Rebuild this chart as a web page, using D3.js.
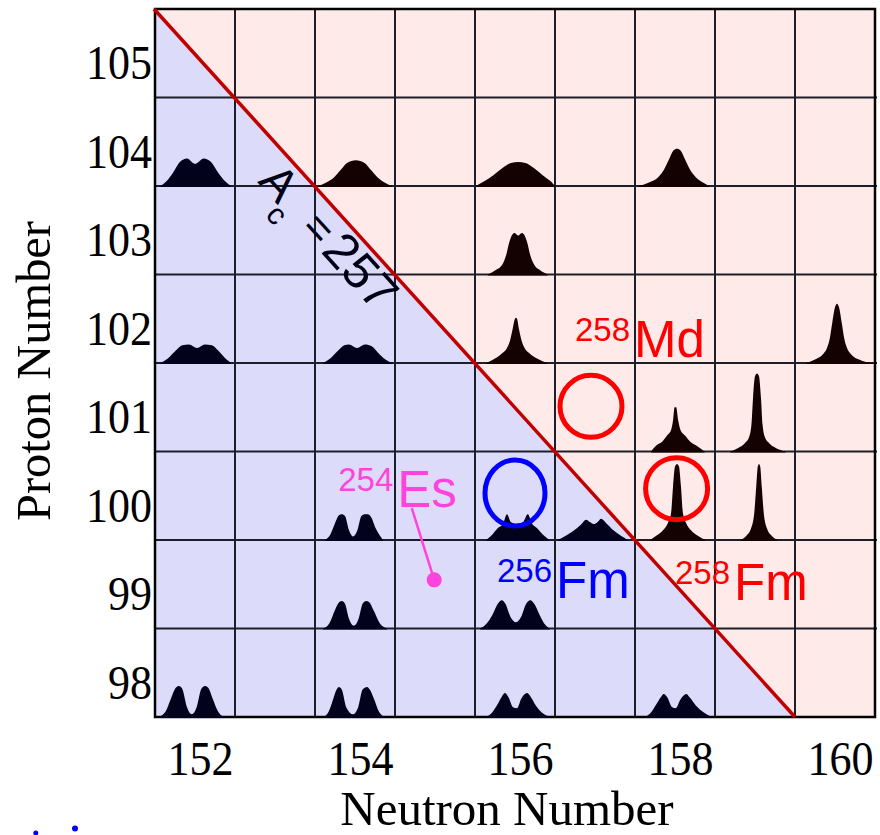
<!DOCTYPE html>
<html>
<head>
<meta charset="utf-8">
<script src="https://cdn.jsdelivr.net/npm/d3@7"></script>
<style>
  html, body { margin: 0; padding: 0; background: #ffffff; }
  svg { display: block; }
</style>
</head>
<body>
<svg id="chart" width="880" height="835"></svg>
<script>
// ---------------- data ----------------
const neutronTicks = [152, 154, 156, 158, 160];
const protonTicks = [98, 99, 100, 101, 102, 103, 104, 105];
const neutronDomain = [151.5, 160.5];
const protonDomain = [97.5, 105.5];
const criticalMass = 257; // A_c = N + Z

// fragment mass distributions per nucleus (N, Z):
// profile points = [relative fragment mass (-1..1 across the cell), yield (fraction of a cell height)]
const yieldN = [152, 154, 156, 158, 156, 152, 154, 156, 160, 158, 159, 154, 156, 157, 158, 159, 154, 156, 152, 154, 156, 158];
const yieldZ = [104, 104, 104, 104, 103, 102, 102, 102, 102, 101, 101, 100, 100, 100, 100, 100, 99, 99, 98, 98, 98, 98];
const yieldProfiles = [
  [[-0.86,0],[-0.72,0.05],[-0.55,0.15],[-0.38,0.27],[-0.2,0.31],[0.0,0.25],[0.22,0.31],[0.4,0.27],[0.58,0.15],[0.76,0.05],[0.9,0]],
  [[-0.92,0],[-0.72,0.04],[-0.52,0.1],[-0.36,0.18],[-0.2,0.26],[0.02,0.29],[0.24,0.26],[0.4,0.18],[0.56,0.1],[0.74,0.04],[0.92,0]],
  [[-0.98,0],[-0.78,0.05],[-0.55,0.12],[-0.32,0.2],[-0.1,0.26],[0.08,0.27],[0.26,0.26],[0.48,0.2],[0.7,0.12],[0.9,0.05],[1.0,0]],
  [[-0.9,0],[-0.65,0.04],[-0.42,0.1],[-0.27,0.19],[-0.14,0.31],[-0.04,0.4],[0.05,0.42],[0.14,0.4],[0.24,0.31],[0.37,0.19],[0.52,0.1],[0.7,0.04],[0.85,0]],
  [[-0.68,0],[-0.48,0.05],[-0.32,0.11],[-0.22,0.22],[-0.14,0.37],[-0.07,0.45],[-0.01,0.47],[0.08,0.44],[0.17,0.47],[0.23,0.45],[0.3,0.37],[0.38,0.22],[0.48,0.11],[0.62,0.05],[0.82,0]],
  [[-0.86,0],[-0.68,0.05],[-0.48,0.14],[-0.32,0.2],[-0.15,0.21],[0.05,0.17],[0.25,0.21],[0.42,0.2],[0.58,0.14],[0.76,0.05],[0.9,0]],
  [[-0.8,0],[-0.62,0.05],[-0.42,0.14],[-0.27,0.2],[-0.15,0.21],[0.05,0.17],[0.25,0.21],[0.42,0.19],[0.57,0.12],[0.76,0.04],[0.93,0]],
  [[-0.72,0],[-0.5,0.05],[-0.32,0.11],[-0.2,0.17],[-0.12,0.26],[-0.06,0.38],[0.0,0.5],[0.02,0.51],[0.05,0.5],[0.1,0.38],[0.16,0.26],[0.24,0.17],[0.36,0.11],[0.55,0.05],[0.8,0]],
  [[-0.72,0],[-0.5,0.04],[-0.3,0.1],[-0.2,0.17],[-0.13,0.28],[-0.07,0.45],[0.0,0.63],[0.05,0.67],[0.1,0.63],[0.17,0.45],[0.23,0.28],[0.3,0.17],[0.4,0.1],[0.6,0.04],[0.95,0]],
  [[-0.6,0],[-0.46,0.07],[-0.32,0.11],[-0.2,0.18],[-0.1,0.24],[-0.05,0.35],[-0.01,0.5],[0.03,0.5],[0.08,0.35],[0.14,0.24],[0.25,0.18],[0.38,0.11],[0.52,0.07],[0.74,0]],
  [[-0.62,0],[-0.42,0.04],[-0.26,0.09],[-0.15,0.16],[-0.09,0.3],[-0.05,0.6],[0.0,0.85],[0.05,0.88],[0.1,0.85],[0.15,0.6],[0.19,0.3],[0.25,0.16],[0.36,0.09],[0.52,0.04],[0.76,0]],
  [[-0.75,0],[-0.62,0.06],[-0.5,0.19],[-0.4,0.28],[-0.33,0.29],[-0.25,0.27],[-0.15,0.11],[-0.05,0.04],[0.06,0.11],[0.16,0.27],[0.25,0.29],[0.32,0.29],[0.4,0.26],[0.52,0.13],[0.62,0.05],[0.7,0]],
  [[-0.72,0],[-0.57,0.06],[-0.44,0.13],[-0.3,0.18],[-0.2,0.29],[-0.1,0.2],[0.05,0.18],[0.2,0.2],[0.32,0.29],[0.42,0.19],[0.56,0.13],[0.7,0.06],[0.86,0]],
  [[-0.92,0],[-0.72,0.05],[-0.52,0.11],[-0.36,0.17],[-0.22,0.23],[-0.12,0.2],[-0.03,0.18],[0.08,0.21],[0.15,0.24],[0.28,0.19],[0.46,0.11],[0.64,0.05],[0.82,0]],
  [[-0.62,0],[-0.46,0.05],[-0.3,0.11],[-0.18,0.19],[-0.1,0.3],[-0.05,0.6],[0.0,0.83],[0.05,0.86],[0.1,0.83],[0.15,0.6],[0.2,0.3],[0.28,0.19],[0.4,0.11],[0.56,0.05],[0.76,0]],
  [[-0.36,0],[-0.21,0.05],[-0.1,0.13],[-0.02,0.3],[0.03,0.6],[0.07,0.83],[0.1,0.86],[0.13,0.83],[0.17,0.6],[0.22,0.3],[0.3,0.13],[0.41,0.05],[0.56,0]],
  [[-0.8,0],[-0.64,0.06],[-0.5,0.21],[-0.39,0.3],[-0.33,0.31],[-0.25,0.28],[-0.15,0.11],[-0.03,0.03],[0.09,0.11],[0.19,0.28],[0.28,0.31],[0.35,0.3],[0.46,0.21],[0.62,0.06],[0.8,0]],
  [[-0.87,0],[-0.72,0.05],[-0.57,0.15],[-0.43,0.28],[-0.33,0.32],[-0.24,0.28],[-0.11,0.13],[0.02,0.07],[0.15,0.13],[0.28,0.28],[0.38,0.32],[0.48,0.28],[0.62,0.15],[0.74,0.05],[0.87,0]],
  [[-0.92,0],[-0.74,0.06],[-0.6,0.21],[-0.48,0.33],[-0.4,0.35],[-0.32,0.32],[-0.2,0.11],[-0.08,0.03],[0.04,0.11],[0.16,0.32],[0.25,0.35],[0.33,0.33],[0.44,0.21],[0.58,0.06],[0.74,0]],
  [[-0.8,0],[-0.66,0.06],[-0.54,0.21],[-0.46,0.31],[-0.4,0.34],[-0.33,0.31],[-0.22,0.11],[-0.05,0.03],[0.08,0.11],[0.19,0.31],[0.3,0.34],[0.37,0.31],[0.47,0.21],[0.6,0.06],[0.74,0]],
  [[-0.72,0],[-0.57,0.05],[-0.44,0.14],[-0.33,0.23],[-0.25,0.27],[-0.16,0.22],[-0.05,0.11],[0.05,0.1],[0.16,0.21],[0.3,0.27],[0.39,0.23],[0.52,0.13],[0.67,0.05],[0.9,0]],
  [[-0.74,0],[-0.6,0.05],[-0.47,0.14],[-0.36,0.22],[-0.28,0.26],[-0.19,0.22],[-0.07,0.11],[0.02,0.1],[0.14,0.2],[0.28,0.26],[0.37,0.22],[0.52,0.13],[0.72,0.05],[0.92,0]]
];

// highlighted nuclei (circles), in (N, Z)
const circleN = [156.95, 158.02, 156.0];
const circleZ = [101.01, 100.08, 100.03];
const circleKind = ["red", "red", "blue"];

// nuclide labels: mass number (superscript) + element symbol, anchored in (N, Z)
const labelMass = ["258", "254", "256", "258"];
const labelSymbol = ["Md", "Es", "Fm", "Fm"];
const labelN = [156.75, 153.79, 155.775, 158.0];
const labelZ = [101.57, 99.87, 98.84, 98.82];
const labelKind = ["red", "magenta", "blue", "red"];

// pointer from the 254Es label to its position
const pointerN = [154.71, 154.99];
const pointerZ = [99.86, 99.05];

// A_c label anchor (N, Z)
const acLabelN = 152.775;
const acLabelZ = 103.545;

// stray marks at the bottom-left corner (N, Z)
const strayN = [150.01, 150.5];
const strayZ = [96.19, 96.24];

// ---------------- drawing ----------------
const colors = { red: "#ff0000", blue: "#0000ff", magenta: "#ff44dd" };
const svg = d3.select("#chart");
const x = d3.scaleLinear().domain(neutronDomain).range([155, 875]);
const y = d3.scaleLinear().domain(protonDomain).range([717, 9]);
const cellH = y(protonDomain[0]) - y(protonDomain[0] + 1);

// line N + Z = A_c clipped to the grid
const lineStart = [neutronDomain[0], criticalMass - neutronDomain[0]];
const lineEnd = [criticalMass - protonDomain[0], protonDomain[0]];

// backgrounds
svg.append("polygon")
  .attr("points", [[neutronDomain[0], protonDomain[1]], [neutronDomain[1], protonDomain[1]],
                   [neutronDomain[1], protonDomain[0]], lineEnd].map(p => [x(p[0]), y(p[1])].join(",")).join(" "))
  .attr("fill", "#ffeaea");
svg.append("polygon")
  .attr("points", [lineStart, lineEnd, [neutronDomain[0], protonDomain[0]]]
    .map(p => [x(p[0]), y(p[1])].join(",")).join(" "))
  .attr("fill", "#dcdcfa");

// grid
const grid = svg.append("g");
const nEdges = d3.range(neutronDomain[0] + 1, neutronDomain[1], 1);
const zEdges = d3.range(protonDomain[0] + 1, protonDomain[1], 1);
grid.selectAll("line.v").data(nEdges).join("line")
  .attr("x1", d => x(d)).attr("x2", d => x(d))
  .attr("y1", y(protonDomain[1])).attr("y2", y(protonDomain[0]))
  .attr("stroke", "#1e1e2a").attr("stroke-width", 2);
grid.selectAll("line.h").data(zEdges).join("line")
  .attr("x1", x(neutronDomain[0])).attr("x2", x(neutronDomain[1]) + 2)
  .attr("y1", d => y(d)).attr("y2", d => y(d))
  .attr("stroke", "#1e1e2a").attr("stroke-width", 2);
grid.append("rect")
  .attr("x", x(neutronDomain[0])).attr("y", y(protonDomain[1]))
  .attr("width", x(neutronDomain[1]) - x(neutronDomain[0]))
  .attr("height", y(protonDomain[0]) - y(protonDomain[1]))
  .attr("fill", "none").attr("stroke", "#000").attr("stroke-width", 2.5);

// fragment mass distributions
const peaks = svg.append("g");
yieldProfiles.forEach((prof, i) => {
  const N = yieldN[i], Z = yieldZ[i];
  const area = d3.area()
    .x(d => x(N + d[0] / 2))
    .y0(y(Z - 0.5) + 1)
    .y1(d => y(Z - 0.5 + d[1]))
    .curve(d3.curveMonotoneX);
  peaks.append("path")
    .attr("d", area(prof))
    .attr("fill", N + Z > criticalMass ? "#140202" : "#02021c");
});

// diagonal line
svg.append("line")
  .attr("x1", x(lineStart[0]) - 1).attr("y1", y(lineStart[1]))
  .attr("x2", x(lineEnd[0])).attr("y2", y(lineEnd[1]))
  .attr("stroke", "#c00000").attr("stroke-width", 3.5);

// A_c = 257 label
const angle = Math.atan2(y(lineEnd[1]) - y(lineStart[1]), x(lineEnd[0]) - x(lineStart[0])) * 180 / Math.PI;
const ac = svg.append("g")
  .attr("transform", `translate(${x(acLabelN)},${y(acLabelZ)}) rotate(${angle})`)
  .attr("font-family", "'Liberation Sans', Arial, sans-serif")
  .attr("fill", "#000016");
ac.append("text").attr("x", 0).attr("y", 0).attr("font-size", 47).text("A");
ac.append("text").attr("x", 30).attr("y", 17).attr("font-size", 30).text("c");
ac.append("text").attr("x", 63).attr("y", 0).attr("font-size", 44).text("=");
ac.append("text").attr("x", 94).attr("y", 0).attr("font-size", 50).attr("letter-spacing", 0).text(criticalMass);

// circles
svg.append("g").selectAll("ellipse").data(circleN).join("ellipse")
  .attr("cx", (d, i) => x(d)).attr("cy", (d, i) => y(circleZ[i]))
  .attr("rx", (d, i) => circleKind[i] === "blue" ? 30 : 31)
  .attr("ry", (d, i) => circleKind[i] === "blue" ? 33 : 31)
  .attr("fill", "none")
  .attr("stroke", (d, i) => colors[circleKind[i]])
  .attr("stroke-width", 5);

// pointer for 254Es
svg.append("line")
  .attr("x1", x(pointerN[0])).attr("y1", y(pointerZ[0]))
  .attr("x2", x(pointerN[1])).attr("y2", y(pointerZ[1]))
  .attr("stroke", colors.magenta).attr("stroke-width", 2.5);
svg.append("circle")
  .attr("cx", x(pointerN[1])).attr("cy", y(pointerZ[1])).attr("r", 7.5)
  .attr("fill", colors.magenta);

// nuclide labels
labelMass.forEach((m, i) => {
  const t = svg.append("text")
    .attr("x", x(labelN[i])).attr("y", y(labelZ[i]))
    .attr("font-family", "'Liberation Sans', Arial, sans-serif")
    .attr("fill", colors[labelKind[i]]);
  t.append("tspan").attr("font-size", 33).attr("dy", -16).text(m);
  t.append("tspan").attr("font-size", 51).attr("dx", 4).attr("dy", 16).text(labelSymbol[i]);
});

// axes
const serif = "'Liberation Serif', 'Times New Roman', serif";
const xAxis = svg.append("g")
  .attr("transform", `translate(0,${y(protonDomain[0])})`)
  .call(d3.axisBottom(x).tickValues(neutronTicks).tickSize(0).tickFormat(d3.format("d")));
xAxis.select(".domain").remove();
xAxis.selectAll("text")
  .attr("y", 58).attr("dy", 0).attr("dx", 5)
  .attr("font-family", serif)
  .attr("font-size", 48).attr("fill", "#000")
  .attr("textLength", 66).attr("lengthAdjust", "spacingAndGlyphs");

const yAxis = svg.append("g")
  .attr("transform", `translate(${x(neutronDomain[0])},0)`)
  .call(d3.axisLeft(y).tickValues(protonTicks).tickSize(0).tickFormat(d3.format("d")));
yAxis.select(".domain").remove();
yAxis.selectAll("text")
  .attr("x", -3).attr("dy", 0).attr("y", cellH / 2 - 19)
  .attr("font-family", serif)
  .attr("font-size", 48).attr("fill", "#000")
  .attr("textLength", d => String(d).length * 22)
  .attr("lengthAdjust", "spacingAndGlyphs");

// axis titles
svg.append("text")
  .attr("transform", `translate(50,${(y(protonDomain[0]) + y(protonDomain[1])) / 2 + 8}) rotate(-90)`)
  .attr("text-anchor", "middle")
  .attr("font-family", serif)
  .attr("font-size", 49).attr("fill", "#000")
  .attr("textLength", 300).attr("lengthAdjust", "spacingAndGlyphs")
  .text("Proton Number");
svg.append("text")
  .attr("x", 507).attr("y", 825)
  .attr("text-anchor", "middle")
  .attr("font-family", serif)
  .attr("font-size", 49).attr("fill", "#000")
  .text("Neutron Number");

// stray marks
svg.append("g").selectAll("circle").data(strayN).join("circle")
  .attr("cx", d => x(d)).attr("cy", (d, i) => y(strayZ[i]))
  .attr("r", (d, i) => i === 0 ? 2.5 : 3)
  .attr("fill", colors.blue);
</script>
</body>
</html>
